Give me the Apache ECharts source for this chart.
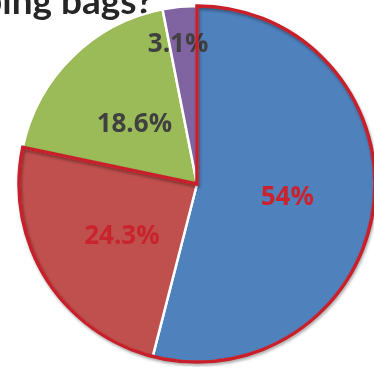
<!DOCTYPE html>
<html>
<head>
<meta charset="utf-8">
<script src="https://cdn.jsdelivr.net/npm/echarts@6/dist/echarts.min.js"></script>
<style>
  html, body { margin: 0; padding: 0; background: #fff; }
  #chart { width: 374px; height: 367px; }
</style>
</head>
<body>
<div id="chart"></div>
<script>
// Survey answers, as percentages
const categories = ['Always', 'Sometimes', 'Rarely', 'Never'];
const shares = [54, 24.3, 18.6, 3.1];
const labelTexts = ['54%', '24.3%', '18.6%', '3.1%'];
const sliceColors = ['#4f81bd', '#c0504d', '#9bbb59', '#8064a2'];
const labelColors = ['#c9232e', '#c9232e', '#404040', '#404040'];
const titleText = 'shopping bags?';

// The first two answers are outlined together as one highlighted group
const highlighted = shares[0] + shares[1];
const rest = shares[2] + shares[3];

const CENTER = [197, 184];
const RADIUS = 178;

// Small nudges for the inside labels
const labelNudge = [
  { dx: -1, dy: 2 },
  { dx: 3, dy: 4 },
  { dx: 2, dy: 6 },
  { dx: -10, dy: -48 }
];

const chart = echarts.init(document.getElementById('chart'), null, { renderer: 'canvas' });

chart.setOption({
  animation: false,
  backgroundColor: '#ffffff',
  graphic: [{
    type: 'text',
    right: 374 - 153,
    top: -16,
    style: {
      text: titleText,
      font: 'bold 37px Lato',
      fill: '#262626',
      textAlign: 'right'
    }
  }],
  series: [
    {
      type: 'pie',
      center: CENTER,
      radius: [0, RADIUS],
      startAngle: 90,
      clockwise: true,
      silent: true,
      data: categories.map((name, i) => ({
        name: name,
        value: shares[i],
        itemStyle: { color: sliceColors[i] },
        label: { color: labelColors[i], formatter: labelTexts[i] }
      })),
      itemStyle: { borderColor: '#ffffff', borderWidth: 2.5 },
      label: {
        show: true,
        position: 'inside',
        fontFamily: 'Open Sans',
        fontWeight: 'bold',
        fontSize: 26
      },
      labelLine: { show: false },
      labelLayout: function (params) {
        return labelNudge[params.dataIndex];
      }
    },
    {
      type: 'pie',
      center: CENTER,
      radius: [0, RADIUS],
      startAngle: 90,
      clockwise: true,
      silent: true,
      z: 3,
      label: { show: false },
      labelLine: { show: false },
      data: [
        {
          name: 'group',
          value: highlighted,
          itemStyle: {
            color: 'rgba(0,0,0,0)',
            borderColor: '#c8202a',
            borderWidth: 3.5,
            borderJoin: 'miter',
            shadowColor: 'rgba(0,0,0,0.35)',
            shadowBlur: 3,
            shadowOffsetX: 1,
            shadowOffsetY: 2
          }
        },
        {
          name: 'rest',
          value: rest,
          itemStyle: { color: 'rgba(0,0,0,0)', borderWidth: 0 }
        }
      ]
    }
  ]
});
</script>
</body>
</html>
